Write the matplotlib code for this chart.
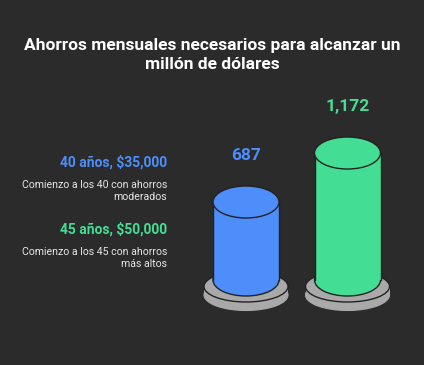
import matplotlib
matplotlib.use("Agg")
import matplotlib.pyplot as plt
from matplotlib.patches import Ellipse, Rectangle

categories = ["40 años, $35,000", "45 años, $50,000"]
descriptions = ["Comienzo a los 40 con ahorros\nmoderados", "Comienzo a los 45 con ahorros\nmás altos"]
values = [687, 1172]
value_labels = ["687", "1,172"]
colors = ["#4D8EFB", "#43DE94"]
title = "Ahorros mensuales necesarios para alcanzar un\nmillón de dólares"

BG = "#2b2b2b"
EDGE = "#222222"
BASE = "#a9a9a9"

plt.rcParams['font.family'] = ['Roboto', 'DejaVu Sans']

W, H = 424, 365
fig = plt.figure(figsize=(W / 100, H / 100), dpi=100)
fig.patch.set_facecolor(BG)
ax = fig.add_axes([0, 0, 1, 1])
ax.set_facecolor(BG)
ax.axis("off")

# pixel mapping (styling): category 0 at x=246px, spacing 101.5px
x0_px, dx_px = 246.0, 101.5
ax.set_xlim(-x0_px / dx_px, (W - x0_px) / dx_px)
# value mapping: y_px = 271.4 - 0.101 * v
y0_px, k = 271.4, 0.101
ax.set_ylim((y0_px - H) / k, y0_px / k)

cyl_w = 66 / dx_px
base_w = 84 / dx_px
ell_h = 32 / k
base_ell_h = 31 / k
cyl_bottom = (y0_px - 280) / k
base_top = (y0_px - 286.5) / k
base_bot = (y0_px - 295) / k

for i, (v, c) in enumerate(zip(values, colors)):
    # base disk
    ax.add_patch(Ellipse((i, base_bot), base_w, base_ell_h, facecolor=BASE, edgecolor=BASE, lw=0.8, zorder=1))
    ax.add_patch(Rectangle((i - base_w / 2, base_bot), base_w, base_top - base_bot, facecolor=BASE, edgecolor="none", zorder=1))
    ax.add_patch(Ellipse((i, base_top), base_w, base_ell_h, facecolor=BASE, edgecolor=EDGE, lw=1.0, zorder=2))
    # cylinder
    ax.add_patch(Ellipse((i, cyl_bottom), cyl_w, ell_h, facecolor=c, edgecolor=EDGE, lw=1.0, zorder=3))
    ax.add_patch(Rectangle((i - cyl_w / 2, cyl_bottom), cyl_w, v - cyl_bottom, facecolor=c, edgecolor="none", zorder=4))
    ax.plot([i - cyl_w / 2] * 2, [cyl_bottom, v], color=EDGE, lw=1.0, zorder=5)
    ax.plot([i + cyl_w / 2] * 2, [cyl_bottom, v], color=EDGE, lw=1.0, zorder=5)
    ax.add_patch(Ellipse((i, v), cyl_w, ell_h, facecolor=c, edgecolor=EDGE, lw=1.0, zorder=6))
    # value label
    ax.text(i, v + 47 / k, value_labels[i], color=c, fontsize=12.5, fontweight="bold",
            ha="center", va="center", zorder=7)

# title
fig.text(0.5, 1 - 55 / H, title, color="white", fontsize=12.5, fontweight="bold",
         ha="center", va="center", linespacing=1.3)

# legend-like text block
label_y = [162, 229]
desc_y = [191, 258]
for i in range(len(categories)):
    fig.text(167 / W, 1 - label_y[i] / H, categories[i], color=colors[i], fontsize=10,
             fontweight="bold", ha="right", va="center")
    fig.text(167 / W, 1 - desc_y[i] / H, descriptions[i], color="#e6e6e6", fontsize=7.6,
             ha="right", va="center", multialignment="right", linespacing=1.3)

fig.savefig("out.png", dpi=100, facecolor=BG)
